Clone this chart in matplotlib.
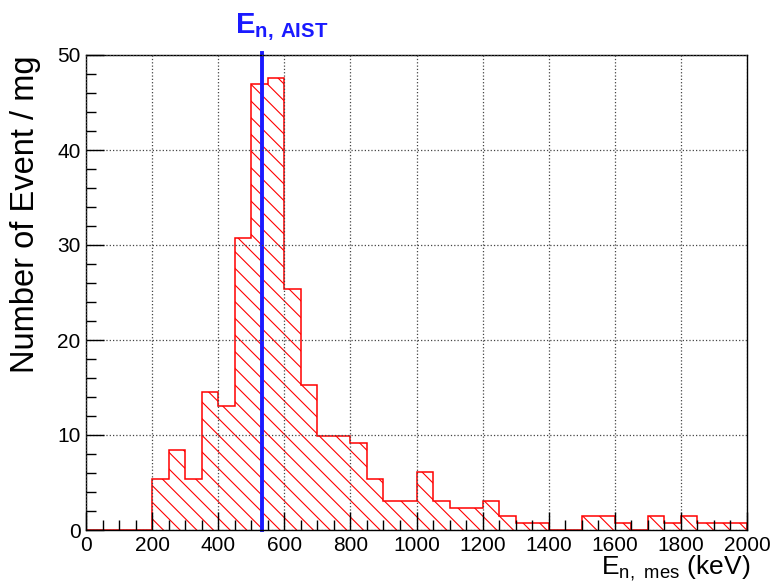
import numpy as np
import matplotlib
matplotlib.use("Agg")
import matplotlib.pyplot as plt
from matplotlib.ticker import MultipleLocator

plt.rcParams['font.family'] = ['Liberation Sans', 'DejaVu Sans']
plt.rcParams['mathtext.fontset'] = 'custom'
plt.rcParams['mathtext.rm'] = 'Liberation Sans'
plt.rcParams['mathtext.bf'] = 'Liberation Sans:bold'
plt.rcParams['hatch.linewidth'] = 0.8

# bin edges in keV (50 keV wide) and content per bin (events / mg)
bin_edges = np.arange(0, 2001, 50)
counts = [0, 0, 0, 0, 5.33, 8.38, 5.33, 14.5, 13.05, 30.7,
          46.9, 47.6, 25.4, 15.3, 9.9, 9.9, 9.15, 5.33, 3.05, 3.05,
          6.1, 3.05, 2.29, 2.29, 3.05, 1.52, 0.76, 0.76, 0, 0,
          1.52, 1.52, 0.76, 0, 1.52, 0.76, 1.52, 0.76, 0.76, 0.76]
e_aist = 533  # keV, reference energy line

fig = plt.figure(figsize=(7.71, 5.88), dpi=100)
ax = fig.add_axes([86 / 771, 58 / 588, 661 / 771, 475 / 588])

ax.stairs(counts, bin_edges, fill=True, facecolor='none', edgecolor='#ff0000',
          hatch='\\\\', linewidth=1.1, baseline=0)
ax.axvline(e_aist, color='#1a1aff', linewidth=2.8, ymin=0, ymax=1.005, clip_on=False)

ax.set_xlim(0, 2000)
ax.set_ylim(0, 50)
ax.xaxis.set_major_locator(MultipleLocator(200))
ax.xaxis.set_minor_locator(MultipleLocator(50))
ax.yaxis.set_major_locator(MultipleLocator(10))
ax.yaxis.set_minor_locator(MultipleLocator(2))
ax.tick_params(which='both', direction='in', top=False, right=False,
               width=1, color='black')
ax.tick_params(which='major', length=13, labelsize=15, pad=4)
ax.tick_params(which='minor', length=7)
for s in ax.spines.values():
    s.set_linewidth(1.0)
ax.grid(True, which='major', linestyle=':', color='#444444', linewidth=0.9)
ax.set_axisbelow(False)

ax.set_ylabel('Number of Event / mg', fontsize=23.5, loc='top')
ax.yaxis.set_label_coords(-0.068, 1.0)
ax.set_xlabel(r'$\mathrm{E}_{\mathrm{n,\ mes}}$ (keV)', fontsize=19, loc='right')
ax.xaxis.set_label_coords(1.005, -0.05)

ax.text(451, 51.3, r'$\mathbf{E}_{\mathbf{n,}\,\mathbf{AIST}}$', color='#1a1aff',
        fontsize=21, ha='left', va='bottom')

fig.savefig('out.png', dpi=100)
